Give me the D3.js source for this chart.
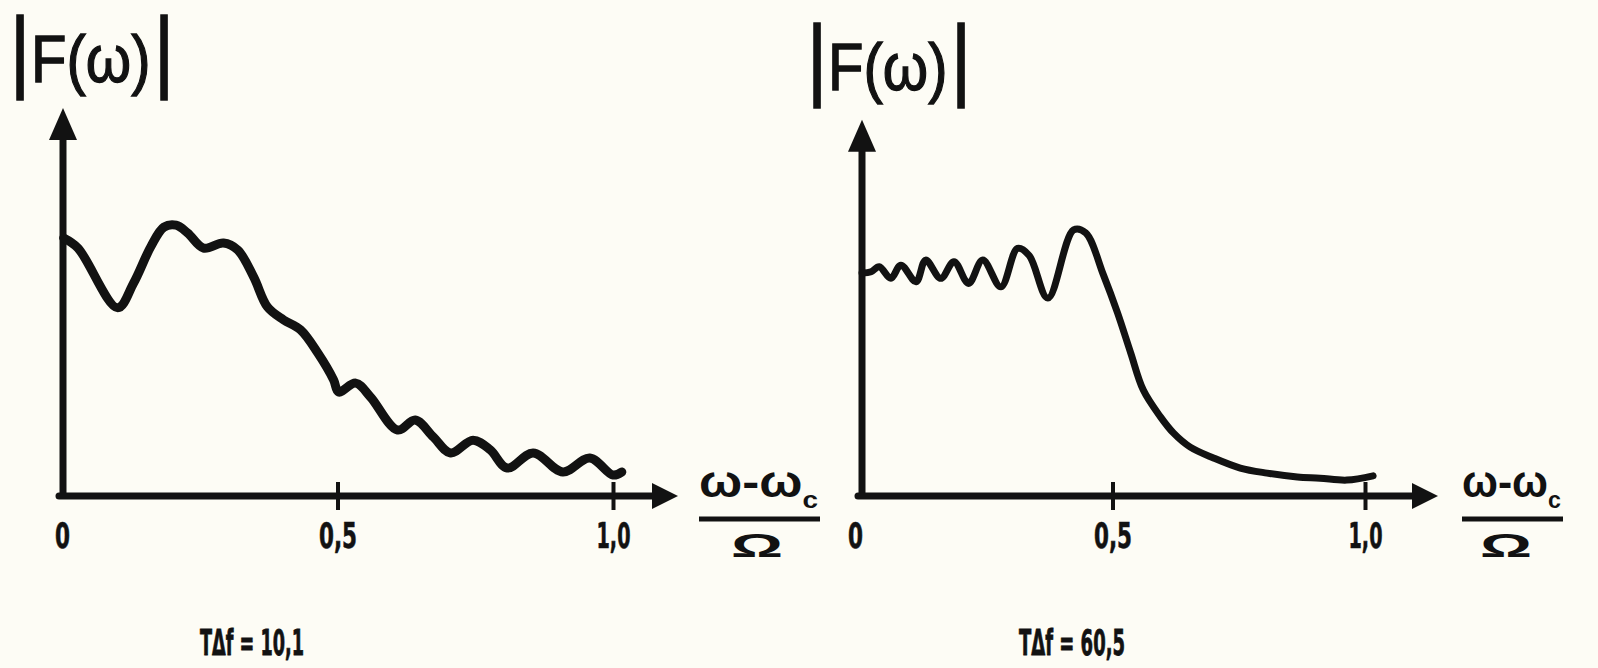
<!DOCTYPE html>
<html><head><meta charset="utf-8">
<script src="https://cdn.jsdelivr.net/npm/d3@7"></script>
<style>
html,body{margin:0;padding:0;background:#fdfcf5;}
svg{display:block;}
</style>
</head><body>
<svg id="chart" width="1598" height="668"></svg>
<script>
// ---------- data ----------
const xTickValues = [0, 0.5, 1.0];
const xTickLabels = ["0", "0,5", "1,0"];
const yAxisLabel = "F(ω)";
const xAxisNumerator = "ω-ω";
const xAxisSub = "c";
const xAxisDenominator = "Ω";
const captions = ["TΔf = 10,1", "TΔf = 60,5"];

// left panel: T·Δf = 10,1
const leftX = [0.003, 0.029, 0.101, 0.130, 0.161, 0.185, 0.207, 0.228, 0.257, 0.293, 0.319, 0.348, 0.373, 0.402, 0.433, 0.464, 0.493, 0.502, 0.533, 0.560, 0.609, 0.641, 0.674, 0.705, 0.746, 0.777, 0.808, 0.855, 0.909, 0.958, 1.000, 1.016];
const leftY = [66.5, 63.9, 48.5, 54.9, 64.2, 69.3, 69.8, 67.8, 63.9, 65.2, 63.4, 56.4, 48.7, 45.4, 42.8, 36.9, 29.9, 26.8, 29.1, 25.5, 17.0, 19.6, 15.2, 11.1, 14.4, 11.9, 7.2, 11.1, 6.2, 9.8, 5.4, 6.2];

// right panel: T·Δf = 60,5
const rightX = [0.004, 0.022, 0.038, 0.061, 0.081, 0.111, 0.130, 0.160, 0.186, 0.215, 0.243, 0.279, 0.312, 0.335, 0.372, 0.423, 0.447, 0.482, 0.510, 0.536, 0.561, 0.595, 0.621, 0.654, 0.700, 0.753, 0.806, 0.866, 0.911, 0.964, 1.016];
const rightY = [57.5, 57.8, 59.1, 56.1, 59.5, 55.2, 60.8, 56.1, 60.4, 54.8, 60.8, 53.9, 63.8, 62.0, 51.0, 68.6, 67.8, 57.0, 47.2, 36.9, 27.3, 20.4, 16.2, 12.6, 9.8, 7.2, 5.9, 4.9, 4.6, 4.1, 5.2];

// ---------- layout ----------
const INK = "#121212";
const svg = d3.select("#chart");
const yScale = d3.scaleLinear().domain([0, 100]).range([496, 108]);

const panels = [
  {xs: leftX, ys: leftY, range: [62, 613], axisX: 63, yTopVal: 100, xTip: 678, lw: 9,
   title: {dx: 0, y: 82}, frac: {x0: 699, x1: 820, oCx: 757},
   cap: {x: 200, w: 104}, capText: captions[0], zeroShift: 0},
  {xs: rightX, ys: rightY, range: [860, 1365], axisX: 862, yTopVal: 97, xTip: 1438, lw: 7,
   title: {dx: 797, y: 90}, frac: {x0: 1462, x1: 1563, oCx: 1506},
   cap: {x: 1019, w: 106}, capText: captions[1], zeroShift: -5}
];

const narrow = "'Liberation Sans Narrow','DejaVu Sans Condensed','Arial Narrow',sans-serif";
const tickWidths = {"0": 15, "0,5": 38, "1,0": 34};

panels.forEach(p => {
  const x = d3.scaleLinear().domain([0, 1]).range(p.range);
  const g = svg.append("g");
  const y0 = yScale(0);
  const yTop = yScale(p.yTopVal);

  // y axis line + arrow
  g.append("line").attr("x1", p.axisX).attr("x2", p.axisX)
    .attr("y1", y0 + 3).attr("y2", yTop + 26)
    .attr("stroke", INK).attr("stroke-width", 7);
  g.append("path")
    .attr("d", `M${p.axisX},${yTop} L${p.axisX - 14},${yTop + 32} L${p.axisX + 14},${yTop + 32} Z`)
    .attr("fill", INK);

  // x axis line + arrow
  g.append("line").attr("x1", p.axisX - 4).attr("x2", p.xTip - 20)
    .attr("y1", y0).attr("y2", y0)
    .attr("stroke", INK).attr("stroke-width", 7).attr("stroke-linecap", "round");
  g.append("path")
    .attr("d", `M${p.xTip},${y0} L${p.xTip - 26},${y0 - 13} L${p.xTip - 26},${y0 + 13} Z`)
    .attr("fill", INK);

  // ticks and labels using d3 axis
  const ax = g.append("g").attr("transform", `translate(0,${y0})`)
    .call(d3.axisBottom(x).tickValues(xTickValues)
      .tickFormat((d, i) => xTickLabels[i]).tickSizeInner(14).tickSizeOuter(0));
  ax.select(".domain").remove();
  ax.attr("font-family", null).attr("font-size", null);
  ax.selectAll(".tick line")
    .attr("y1", -14).attr("y2", 14)
    .attr("stroke", INK).attr("stroke-width", 4)
    .attr("display", d => d === 0 ? "none" : null);
  ax.selectAll(".tick text")
    .attr("y", 52).attr("dy", null)
    .attr("dx", d => d === 0 ? p.zeroShift : 0)
    .attr("fill", INK).attr("stroke", INK).attr("stroke-width", 0.6)
    .attr("textLength", (d, i) => tickWidths[xTickLabels[i]])
    .attr("lengthAdjust", "spacingAndGlyphs")
    .style("font-family", narrow).style("font-weight", "bold").style("font-size", "35px");

  // curve
  const line = d3.line()
    .x((d, i) => x(p.xs[i]))
    .y((d, i) => yScale(p.ys[i]))
    .curve(d3.curveCatmullRom.alpha(0.5));
  g.append("path").attr("d", line(p.xs))
    .attr("fill", "none").attr("stroke", INK)
    .attr("stroke-width", p.lw).attr("stroke-linejoin", "round").attr("stroke-linecap", "round");

  // |F(ω)| title: one text, horizontally condensed
  const sx = 0.88;
  const tg = g.append("g").attr("transform", `translate(${p.title.dx},${p.title.y})`);
  const t = tg.append("text").attr("transform", `scale(${sx},1)`)
    .attr("fill", INK).attr("stroke", INK).attr("stroke-width", 1.3)
    .style("font-family", "'Liberation Sans',Arial,sans-serif");
  t.append("tspan").attr("x", 20 / sx - 11.7).attr("y", -1).style("font-size", "90px").text("|");
  t.append("tspan").attr("x", 31 / sx).attr("y", 0).style("font-size", "66px").text(yAxisLabel);
  t.append("tspan").attr("x", 164 / sx - 11.7).attr("y", -1).style("font-size", "90px").text("|");

  // x-axis fraction label
  const num = g.append("text").attr("x", p.frac.x0).attr("y", 497)
    .attr("fill", INK)
    .style("font-family", "'Liberation Sans','DejaVu Sans',sans-serif")
    .style("font-weight", "bold").style("font-size", "44px")
    .attr("textLength", p.frac.x1 - p.frac.x0 - 2).attr("lengthAdjust", "spacingAndGlyphs");
  num.append("tspan").text(xAxisNumerator);
  num.append("tspan").style("font-size", "24px").attr("dy", 11).text(xAxisSub);
  g.append("line").attr("x1", p.frac.x0).attr("x2", p.frac.x1)
    .attr("y1", 519).attr("y2", 519).attr("stroke", INK).attr("stroke-width", 5);
  g.append("text").attr("x", p.frac.oCx - 26).attr("y", 557)
    .attr("fill", INK)
    .style("font-family", "'Liberation Sans','DejaVu Sans',sans-serif")
    .style("font-weight", "bold").style("font-size", "34px")
    .attr("textLength", 52).attr("lengthAdjust", "spacingAndGlyphs")
    .text(xAxisDenominator);

  // caption
  g.append("text").attr("x", p.cap.x).attr("y", 655)
    .attr("fill", INK).attr("stroke", INK).attr("stroke-width", 0.8)
    .style("font-family", narrow).style("font-weight", "bold").style("font-size", "36px")
    .attr("textLength", p.cap.w).attr("lengthAdjust", "spacingAndGlyphs")
    .text(p.capText);
});
</script>
</body></html>
